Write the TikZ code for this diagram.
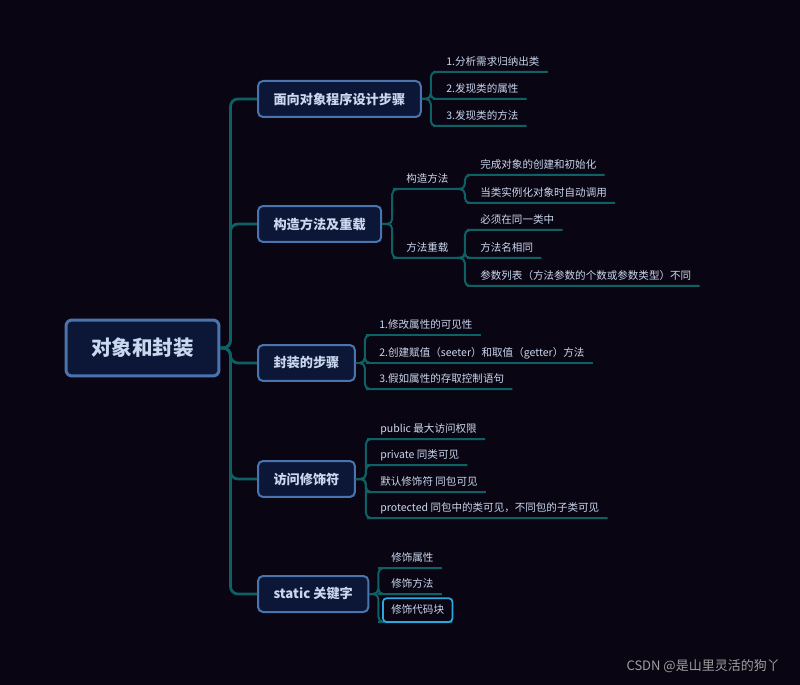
\documentclass[tikz,border=0pt]{standalone}
\usepackage{fontspec}
\setmainfont{Noto Sans CJK SC}
\usetikzlibrary{positioning}
\definecolor{bgc}{HTML}{0A0512}
\definecolor{boxfill}{HTML}{0C1637}
\definecolor{boxline}{HTML}{4A74AE}
\definecolor{linkc}{HTML}{0D6063}
\definecolor{txt}{HTML}{CAD8EF}
\definecolor{hl}{HTML}{29A9E0}

\begin{document}
\begin{tikzpicture}[x=.02cm,y=-.02cm,
 topic/.style={draw=boxline,line width=.04cm,fill=boxfill,rounded corners=.1cm,text=txt,
  font=\fontsize{7.5}{9}\selectfont\bfseries,inner xsep=.31cm,minimum height=.72cm,anchor=west},
 leaf/.style={text=txt,font=\fontsize{6}{7}\selectfont,inner xsep=.16cm,inner ysep=.07cm,
  text height=.2cm,text depth=.06cm,anchor=south west},
 link/.style={draw=linkc,line width=.04cm,rounded corners=.1cm},
 trunk/.style={link,line width=.055cm,rounded corners=.15cm}]
 \fill[bgc] (0,0) rectangle (800,685);
 \node[draw=boxline,line width=.06cm,fill=boxfill,rounded corners=.12cm,text=txt,
  font=\fontsize{11.7}{14}\selectfont\bfseries,minimum width=3.06cm,minimum height=1.12cm] (root) at (142.5,348) {对象和封装};
 \node[topic] (b1) at (257,99) {面向对象程序设计步骤};
 \node[topic] (b2) at (257,224) {构造方法及重载};
 \node[topic] (b3) at (257,363) {封装的步骤};
 \node[topic] (b4) at (257,479) {访问修饰符};
 \node[topic] (b5) at (257,594) {static 关键字};
 \foreach \b in {b1,b2,b3,b4,b5} \draw[trunk] (root.east) -- ++(10,0) |- (\b.west);
 % 面向对象程序设计步骤
 \node[leaf] (p1) at (438,72) {1.分析需求归纳出类};
 \node[leaf] (p2) at (438,99) {2.发现类的属性};
 \node[leaf] (p3) at (438,126) {3.发现类的方法};
 \foreach \l in {p1,p2,p3} \draw[link] (b1.east) -- ++(9,0) |- (\l.south west) -- (\l.south east);
 % 构造方法及重载
 \node[leaf] (c1) at (398,189) {构造方法};
 \node[leaf] (c2) at (398,258) {方法重载};
 \foreach \l in {c1,c2} \draw[link] (b2.east) -- ++(10,0) |- (\l.south west) -- (\l.south east);
 \node[leaf] (c11) at (472,175) {完成对象的创建和初始化};
 \node[leaf] (c12) at (472,203) {当类实例化对象时自动调用};
 \foreach \l in {c11,c12} \draw[link] (c1.south east) -- ++(8,0) |- (\l.south west) -- (\l.south east);
 \node[leaf] (c21) at (472,230) {必须在同一类中};
 \node[leaf] (c22) at (472,258) {方法名相同};
 \node[leaf] (c23) at (472,286) {参数列表（方法参数的个数或参数类型）不同};
 \foreach \l in {c21,c22,c23} \draw[link] (c2.south east) -- ++(8,0) |- (\l.south west) -- (\l.south east);
 % 封装的步骤
 \node[leaf] (f1) at (371,335) {1.修改属性的可见性};
 \node[leaf] (f2) at (371,363) {2.创建赋值（seeter）和取值（getter）方法};
 \node[leaf] (f3) at (371,389) {3.假如属性的存取控制语句};
 \foreach \l in {f1,f2,f3} \draw[link] (b3.east) -- ++(9,0) |- (\l.south west) -- (\l.south east);
 % 访问修饰符
 \node[leaf] (a1) at (372,439) {public 最大访问权限};
 \node[leaf] (a2) at (372,465) {private 同类可见};
 \node[leaf] (a3) at (372,492) {默认修饰符 同包可见};
 \node[leaf] (a4) at (372,518) {protected 同包中的类可见，不同包的子类可见};
 \foreach \l in {a1,a2,a3,a4} \draw[link] (b4.east) -- ++(10,0) |- (\l.south west) -- (\l.south east);
 % static 关键字
 \node[leaf] (s1) at (383,568) {修饰属性};
 \node[leaf] (s2) at (383,594) {修饰方法};
 \node[leaf,inner ysep=.1cm] (s3) at (383,622) {修饰代码块};
 \foreach \l in {s1,s2,s3} \draw[link] (b5.east) -- ++(9,0) |- (\l.south west) -- (\l.south east);
 \draw[hl,line width=.035cm,rounded corners=.07cm] (s3.south west) rectangle (s3.north east);
 \node[text=gray!75,font=\fontsize{7.4}{9}\selectfont,anchor=east] (mark) at (786,666) {CSDN @是山里灵活的狗丫};
\end{tikzpicture}
\end{document}
